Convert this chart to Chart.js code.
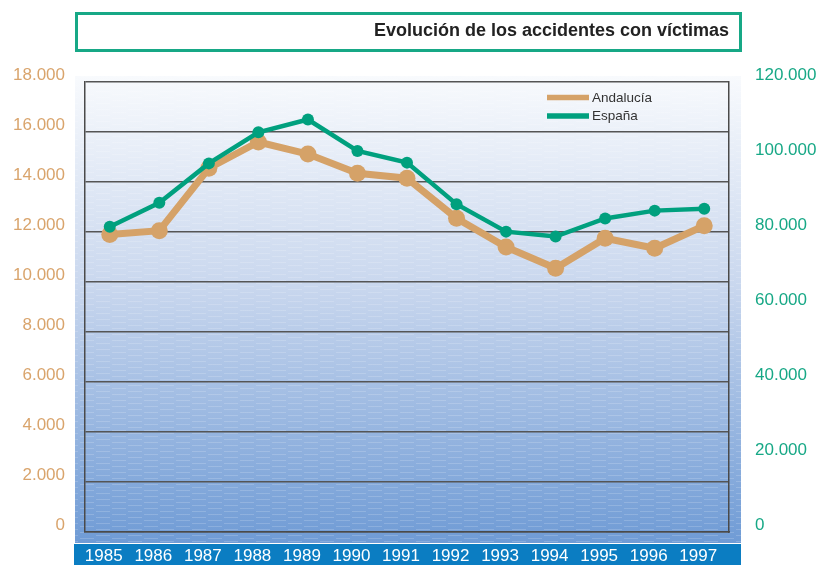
<!DOCTYPE html>
<html>
<head>
<meta charset="utf-8">
<script src="https://cdn.jsdelivr.net/npm/chart.js@4.4.1/dist/chart.umd.min.js"></script>
<style>
html,body{margin:0;padding:0;background:#fff;}
#c{display:block;}
</style>
</head>
<body>
<canvas id="c" width="822" height="565"></canvas>
<script>
const titleText = 'Evolución de los accidentes con víctimas';
const years = ['1985','1986','1987','1988','1989','1990','1991','1992','1993','1994','1995','1996','1997'];
const andalucia = [11900, 12050, 14550, 15600, 15120, 14350, 14150, 12550, 11400, 10550, 11750, 11350, 12250];
const espana = [81400, 87800, 98300, 106600, 110000, 101600, 98500, 87400, 80100, 78800, 83600, 85700, 86200];
const seriesNames = ['Andalucía', 'España'];

const TAN = '#D5A268';
const GREEN = '#00A07E';
const FONT = '"Liberation Sans", Arial, sans-serif';

function fmt(v) {
  return String(v).replace(/\B(?=(\d{3})+(?!\d))/g, '.');
}

function makeTexture() {
  const p = document.createElement('canvas');
  p.width = 32; p.height = 6;
  const g = p.getContext('2d');
  g.fillStyle = 'rgba(255,255,255,0.17)';
  g.fillRect(0, 1, 14, 1);
  g.fillRect(16, 4, 14, 1);
  return p;
}

const decor = {
  id: 'decor',
  beforeDraw(chart) {
    const ctx = chart.ctx;
    ctx.save();
    const grad = ctx.createLinearGradient(0, 76, 0, 543);
    grad.addColorStop(0, '#F8FAFD');
    grad.addColorStop(0.45, '#C9D7EE');
    grad.addColorStop(1, '#6F9BD5');
    ctx.fillStyle = grad;
    ctx.fillRect(75, 76, 666, 467);
    const pat = ctx.createPattern(makeTexture(), 'repeat');
    ctx.fillStyle = pat;
    ctx.fillRect(75, 76, 666, 467);
    ctx.fillStyle = '#0B7DC2';
    ctx.fillRect(74, 544, 667, 21);
    ctx.strokeStyle = '#17A886';
    ctx.lineWidth = 3;
    ctx.strokeRect(76.5, 13.5, 664, 37);
    ctx.fillStyle = '#222';
    ctx.font = 'bold 18px ' + FONT;
    ctx.textAlign = 'right';
    ctx.textBaseline = 'middle';
    ctx.fillText(titleText, 729, 31);
    ctx.restore();
  },
  afterDatasetsDraw(chart) {
    const ctx = chart.ctx;
    ctx.save();
    chart.data.datasets.forEach((ds, i) => {
      const y = 97.5 + i * 18.5;
      ctx.strokeStyle = ds.borderColor;
      ctx.lineWidth = 5.5;
      ctx.beginPath();
      ctx.moveTo(547, y);
      ctx.lineTo(589, y);
      ctx.stroke();
      ctx.fillStyle = '#333';
      ctx.font = '13.5px ' + FONT;
      ctx.textAlign = 'left';
      ctx.textBaseline = 'middle';
      ctx.fillText(ds.label, 592, y + 0.5);
    });
    ctx.restore();
  }
};

function fixY(width) {
  return function (s) {
    s.width = width;
    s.paddingTop = 0;
    s.paddingBottom = 0;
  };
}

new Chart(document.getElementById('c'), {
  type: 'line',
  data: {
    labels: years,
    datasets: [
      {
        label: seriesNames[0],
        data: andalucia,
        yAxisID: 'yL',
        borderColor: TAN,
        backgroundColor: TAN,
        borderWidth: 7,
        pointRadius: 8.5,
        pointBorderWidth: 0,
        pointBackgroundColor: TAN,
        tension: 0,
        order: 1
      },
      {
        label: seriesNames[1],
        data: espana,
        yAxisID: 'yR',
        borderColor: GREEN,
        backgroundColor: GREEN,
        borderWidth: 4.5,
        pointRadius: 6,
        pointBorderWidth: 0,
        pointBackgroundColor: GREEN,
        tension: 0,
        order: 0
      }
    ]
  },
  options: {
    responsive: false,
    animation: false,
    events: [],
    layout: { padding: { top: 82, left: 0, right: 0, bottom: 0 } },
    plugins: { legend: { display: false }, tooltip: { enabled: false }, title: { display: false } },
    scales: {
      x: {
        type: 'category',
        offset: true,
        grid: { display: false, drawTicks: false },
        border: { display: true, color: '#4a4a4a', width: 1.5 },
        ticks: {
          color: '#ffffff',
          font: { family: FONT, size: 17 },
          padding: 14,
          labelOffset: -6,
          maxRotation: 0,
          autoSkip: false
        },
        afterFit(s) { s.height = 33; s.paddingLeft = 0; s.paddingRight = 0; }
      },
      yL: {
        position: 'left',
        min: 0,
        max: 18000,
        grid: { color: '#555', lineWidth: 1.5, drawTicks: false },
        border: { display: true, color: '#4a4a4a', width: 1.5 },
        ticks: {
          stepSize: 2000,
          color: '#D9A46C',
          font: { family: FONT, size: 17 },
          padding: 20,
          labelOffset: -7,
          callback: v => fmt(v)
        },
        afterFit: fixY(85)
      },
      yR: {
        position: 'right',
        min: 0,
        max: 120000,
        grid: { display: false, drawOnChartArea: false, drawTicks: false },
        border: { display: true, color: '#4a4a4a', width: 1.5 },
        ticks: {
          stepSize: 20000,
          color: '#17A886',
          font: { family: FONT, size: 17 },
          padding: 26,
          labelOffset: -7,
          callback: v => fmt(v)
        },
        afterFit: fixY(93)
      }
    }
  },
  plugins: [decor]
});
</script>
</body>
</html>
